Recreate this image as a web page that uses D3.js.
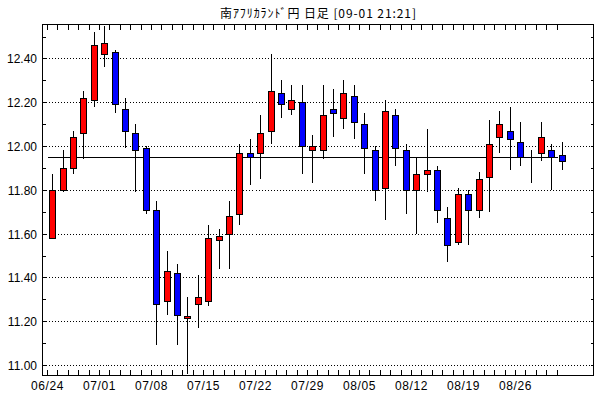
<!DOCTYPE html>
<html>
<head>
<meta charset="utf-8">
<script src="https://cdn.jsdelivr.net/npm/d3@7"></script>
<style>
  body { margin: 0; background: #fff; }
  svg { display: block; }
  text { fill: #000; }
</style>
</head>
<body>
<div id="chart"></div>
<script>
// daily candles, 06/24 .. 08/30 (weekdays)
var dates = ["06/24","06/25","06/26","06/27","06/28",
             "07/01","07/02","07/03","07/04","07/05",
             "07/08","07/09","07/10","07/11","07/12",
             "07/15","07/16","07/17","07/18","07/19",
             "07/22","07/23","07/24","07/25","07/26",
             "07/29","07/30","07/31","08/01","08/02",
             "08/05","08/06","08/07","08/08","08/09",
             "08/12","08/13","08/14","08/15","08/16",
             "08/19","08/20","08/21","08/22","08/23",
             "08/26","08/27","08/28","08/29","08/30"];
var opens  = [11.58,11.80,11.90,12.06,12.21,12.42,12.43,12.17,12.06,11.99,
              11.71,11.29,11.42,11.215,11.28,11.29,11.57,11.60,11.69,11.97,
              11.97,12.07,12.24,12.17,12.20,11.98,11.98,12.17,12.13,12.23,
              12.10,11.98,11.81,12.14,11.98,11.80,11.87,11.89,11.67,11.56,
              11.78,11.71,11.86,12.04,12.07,12.02,11.96,11.97,11.98,11.96];
var highs  = [11.87,11.98,12.07,12.25,12.52,12.55,12.44,12.22,12.10,12.00,
              11.75,11.52,11.46,11.31,11.41,11.64,11.62,11.75,12.01,12.03,
              12.14,12.42,12.30,12.28,12.28,12.05,12.28,12.26,12.30,12.28,
              12.15,12.00,12.21,12.17,12.01,11.95,12.08,11.91,11.72,11.81,
              11.80,11.88,12.12,12.16,12.18,12.11,11.98,12.11,12.01,12.02];
var lows   = [11.58,11.79,11.87,11.94,12.18,12.36,12.15,11.99,11.79,11.69,
              11.09,11.23,11.09,10.96,11.17,11.27,11.44,11.44,11.64,11.82,
              11.85,12.01,12.13,12.14,11.87,11.83,11.94,12.04,12.08,12.03,
              11.87,11.75,11.66,11.91,11.69,11.60,11.79,11.65,11.47,11.55,
              11.55,11.67,11.70,11.97,11.89,11.91,11.83,11.93,11.80,11.89];
var closes = [11.80,11.90,12.04,12.22,12.46,12.47,12.19,12.07,11.98,11.71,
              11.28,11.43,11.23,11.222,11.31,11.58,11.59,11.68,11.97,11.95,
              12.06,12.25,12.19,12.21,12.00,12.00,12.14,12.15,12.24,12.11,
              11.99,11.80,12.16,11.99,11.80,11.87,11.89,11.71,11.55,11.78,
              11.71,11.85,12.01,12.10,12.03,11.95,11.96,12.04,11.95,11.93];
var gridValues = [11.00,11.20,11.40,11.60,11.80,12.00,12.20,12.40];
var minorValues = [11.0,11.1,11.2,11.3,11.4,11.5,11.6,11.7,11.8,11.9,12.0,12.1,12.2,12.3,12.4,12.5];
var labelDates = ["06/24","07/01","07/08","07/15","07/22","07/29","08/05","08/12","08/19","08/26"];
var refPrice = 11.95;
var title = "南ｱﾌﾘｶﾗﾝﾄﾞ円 日足 [09-01 21:21]";

var W = 598, H = 398;
var L = 42.5, R = 593.5, T = 24.5, B = 375.5;

var svg = d3.select("#chart").append("svg")
    .attr("width", W).attr("height", H)
    .style("font-family", "'Liberation Sans', Arial, sans-serif");

var x = d3.scaleBand().domain(dates).range([47, 47 + 10.4 * dates.length]).padding(0);
var y = d3.scaleLinear().domain([10.952, 12.555]).range([B, T]);

function cx(d) { return Math.round(x(d) + x.bandwidth() / 2); }
function py(v) { return Math.round(y(v)) + 0.5; }

// title
svg.append("text")
    .attr("x", 220).attr("y", 18)
    .attr("textLength", 196)
    .attr("lengthAdjust", "spacing")
    .style("font-family", "'Noto Sans CJK JP', sans-serif")
    .style("font-size", "12px")
    .text(title);

// dotted grid
svg.append("g").selectAll("line").data(gridValues).enter().append("line")
    .attr("x1", L).attr("x2", R)
    .attr("y1", function(d){ return py(d); }).attr("y2", function(d){ return py(d); })
    .attr("stroke", "#000").attr("stroke-dasharray", "1,2")
    .attr("shape-rendering", "crispEdges");

// y labels
svg.append("g").selectAll("text").data(gridValues).enter().append("text")
    .attr("x", 37).attr("y", function(d){ return py(d); })
    .attr("dy", "0.36em")
    .attr("text-anchor", "end")
    .style("font-size", "12px")
    .text(function(d){ return d3.format(".2f")(d); });

// y minor ticks (both sides, inward)
var ticks = svg.append("g").attr("stroke", "#000").attr("shape-rendering", "crispEdges");
minorValues.forEach(function(v){
    ticks.append("line").attr("x1", L).attr("x2", L + 3).attr("y1", py(v)).attr("y2", py(v));
    ticks.append("line").attr("x1", R - 3).attr("x2", R).attr("y1", py(v)).attr("y2", py(v));
});

// x ticks at day boundaries (top and bottom, inward)
dates.forEach(function(d){
    var tx = Math.round(x(d)) + 0.5;
    ticks.append("line").attr("x1", tx).attr("x2", tx).attr("y1", T).attr("y2", T + 5);
    ticks.append("line").attr("x1", tx).attr("x2", tx).attr("y1", B - 6).attr("y2", B);
});

// x labels
svg.append("g").selectAll("text").data(labelDates).enter().append("text")
    .attr("x", function(d){ return Math.round(x(d)) + 0.5; })
    .attr("y", 390)
    .attr("text-anchor", "middle")
    .style("font-size", "12px")
    .style("letter-spacing", "0.6px")
    .text(function(d){ return d; });

// reference line
svg.append("line")
    .attr("x1", Math.round(x(dates[0])) + 0.5)
    .attr("x2", Math.round(x(dates[dates.length - 1])) + 0.5)
    .attr("y1", py(refPrice)).attr("y2", py(refPrice))
    .attr("stroke", "#000").attr("shape-rendering", "crispEdges");

// candles
var candles = svg.append("g").selectAll("g").data(dates).enter().append("g");

candles.append("line")
    .attr("x1", function(d){ return cx(d) + 0.5; })
    .attr("x2", function(d){ return cx(d) + 0.5; })
    .attr("y1", function(d, i){ return Math.round(y(highs[i])); })
    .attr("y2", function(d, i){ return Math.round(y(lows[i])); })
    .attr("stroke", "#000").attr("shape-rendering", "crispEdges");

candles.append("rect")
    .attr("x", function(d){ return cx(d) - 2.5; })
    .attr("width", 6)
    .attr("y", function(d, i){ return py(Math.max(opens[i], closes[i])); })
    .attr("height", function(d, i){ return Math.round(y(Math.min(opens[i], closes[i]))) - Math.round(y(Math.max(opens[i], closes[i]))); })
    .attr("fill", function(d, i){ return closes[i] >= opens[i] ? "#ff0000" : "#0000ff"; })
    .attr("stroke", "#000").attr("shape-rendering", "crispEdges");

// frame
svg.append("rect")
    .attr("x", L).attr("y", T).attr("width", R - L).attr("height", B - T)
    .attr("fill", "none").attr("stroke", "#000").attr("shape-rendering", "crispEdges");
</script>
</body>
</html>
